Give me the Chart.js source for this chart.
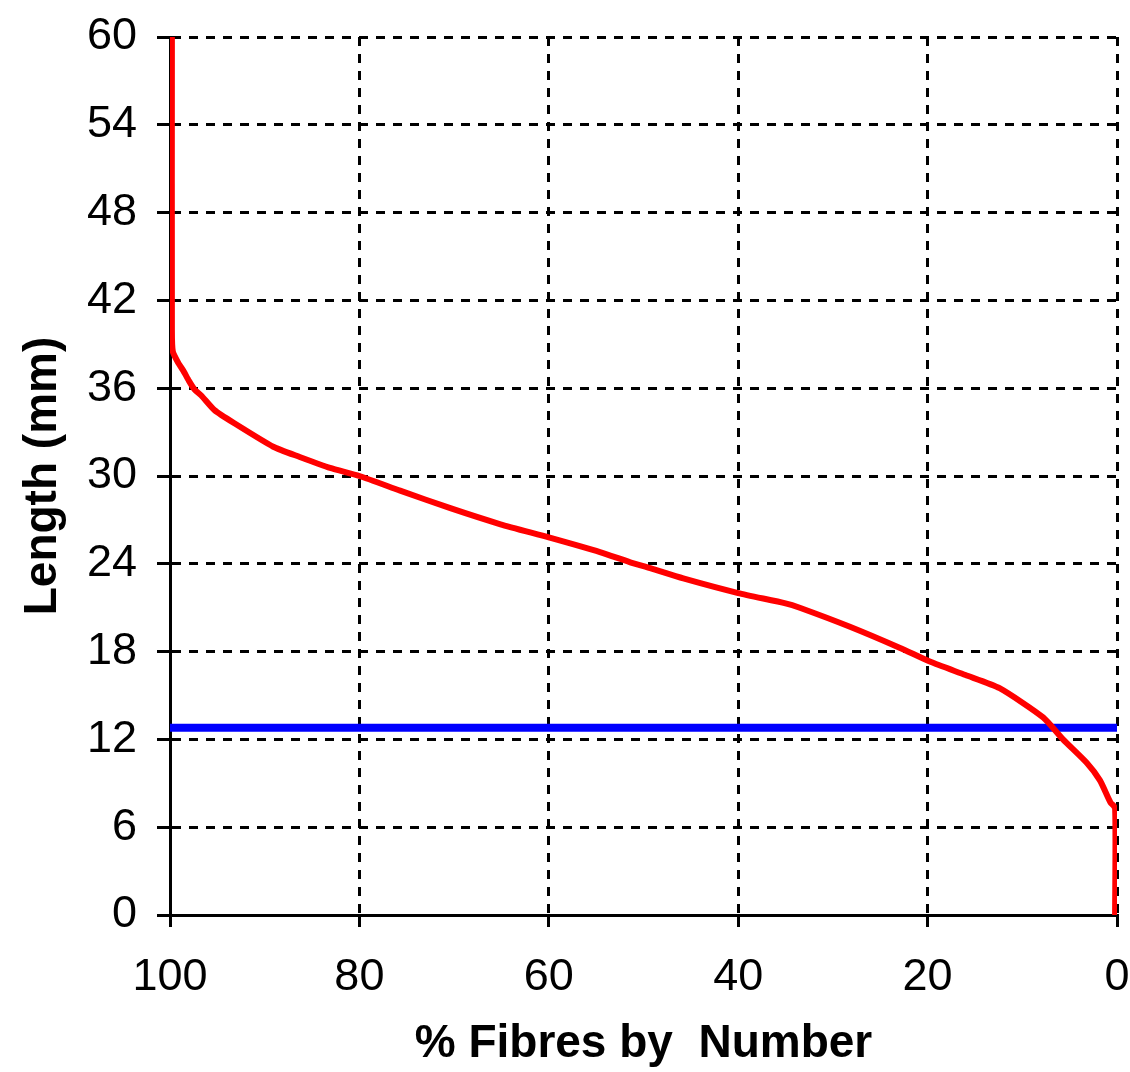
<!DOCTYPE html>
<html>
<head>
<meta charset="utf-8">
<script src="https://cdn.jsdelivr.net/npm/chart.js@4"></script>
<style>
  html, body { margin: 0; padding: 0; background: #fff; }
  #wrap { width: 1130px; height: 1072px; }
</style>
</head>
<body>
<div id="wrap"><canvas id="fibreChart"></canvas></div>
<script>
// fibre length distribution
const pctByNumber = [99.8, 99.8, 99.7, 99.1, 98.6, 98.0, 97.4, 96.7, 95.3, 93.2, 89.1, 86.3, 83.1, 80.0, 75.7, 70.4, 65.1, 60.0, 54.6, 51.4, 49.3, 45.8, 40.0, 35.0, 33.5, 28.2, 22.9, 19.7, 16.0, 12.4, 7.8, 5.7, 3.2, 1.8, 0.7, 0.2, 0.2];
const lengthMm = [60, 40.0, 38.5, 37.7, 37.2, 36.5, 35.9, 35.5, 34.5, 33.6, 32.0, 31.3, 30.55, 30.0, 29.0, 27.8, 26.7, 25.8, 24.8, 24.1, 23.7, 23.0, 22.0, 21.3, 21.0, 19.7, 18.25, 17.3, 16.4, 15.5, 13.5, 12.0, 10.4, 9.2, 7.7, 7.3, 0];

// horizontal reference line (mean length)
const meanLine = [100, 0];
const meanLength = 12.8;

const xTicks = [100, 80, 60, 40, 20, 0];
const yTicks = [0, 6, 12, 18, 24, 30, 36, 42, 48, 54, 60];

const FONT = "'Liberation Sans', Arial, sans-serif";

const ctx = document.getElementById("fibreChart");

new Chart(ctx, {
  type: "line",
  data: {
    datasets: [
      {
        label: "Fibres",
        data: pctByNumber.map((p, i) => ({ x: p, y: lengthMm[i] })),
        borderColor: "#ff0000",
        borderWidth: 6,
        pointRadius: 0,
        tension: 0.2,
        fill: false,
      },
      {
        label: "Mean",
        data: meanLine.map((p) => ({ x: p, y: meanLength })),
        borderColor: "#0000ff",
        borderWidth: 8,
        pointRadius: 0,
        fill: false,
      },
    ],
  },
  options: {
    responsive: true,
    maintainAspectRatio: false,
    animation: false,
    layout: { padding: { top: 37, right: 13, left: 0, bottom: 0 } },
    plugins: {
      legend: { display: false },
      tooltip: { enabled: false },
    },
    scales: {
      x: {
        type: "linear",
        reverse: true,
        min: 0,
        max: 100,
        afterBuildTicks: (s) => { s.ticks = xTicks.map((v) => ({ value: v })); },
        afterFit: (s) => {
          s.height = 157;
          s.paddingLeft = 0;
          s.paddingRight = 0;
        },
        ticks: {
          color: "#000",
          padding: 24,
          font: { family: FONT, size: 45 },
          maxRotation: 0,
        },
        grid: {
          color: "#000",
          lineWidth: 3,
          tickLength: 12,
          tickBorderDash: [],
          tickWidth: 3,
        },
        border: { color: "#000", width: 3, dash: [9, 8] },
        title: {
          display: true,
          text: "% Fibres by  Number",
          color: "#000",
          font: { family: FONT, size: 46, weight: "bold" },
          padding: { top: 0, bottom: 0 },
        },
      },
      y: {
        type: "linear",
        min: 0,
        max: 60,
        afterBuildTicks: (s) => { s.ticks = yTicks.map((v) => ({ value: v })); },
        afterFit: (s) => {
          s.width = 170;
          s.paddingTop = 0;
          s.paddingBottom = 0;
        },
        ticks: {
          color: "#000",
          padding: 20,
          font: { family: FONT, size: 45 },
        },
        grid: {
          color: "#000",
          lineWidth: 3,
          tickLength: 13,
          tickBorderDash: [],
          tickWidth: 3,
        },
        border: { color: "#000", width: 3, dash: [9, 8] },
        title: {
          display: true,
          text: "Length (mm)",
          color: "#000",
          font: { family: FONT, size: 46, weight: "bold" },
          padding: { top: 16, bottom: 0 },
        },
      },
    },
  },
});
</script>
</body>
</html>
